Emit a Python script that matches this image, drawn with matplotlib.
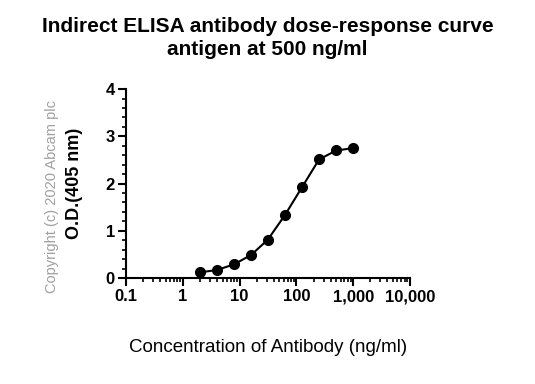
import matplotlib
matplotlib.use('Agg')
import matplotlib.pyplot as plt
from matplotlib.ticker import FixedLocator, MultipleLocator, LogLocator, NullFormatter

plt.rcParams['font.family'] = ['Liberation Sans', 'DejaVu Sans']

# antibody dilution series (ng/ml) and O.D. at 405 nm
conc = [2, 4, 8, 16, 31.25, 62.5, 125, 250, 500, 1000]
od = [0.12, 0.17, 0.29, 0.49, 0.81, 1.33, 1.92, 2.51, 2.70, 2.75]
x_ticks = [0.1, 1, 10, 100, 1000, 10000]
x_labels = ['0.1', '1', '10', '100', '1,000', '10,000']
y_ticks = [0, 1, 2, 3, 4]

fig = plt.figure(figsize=(5.35, 3.84), dpi=100)
ax = fig.add_axes([0.2355, 0.276, 0.531, 0.492])

ax.plot(conc, od, color='black', lw=1.5, marker='o', ms=7, clip_on=False)

ax.set_xscale('log')
ax.set_xlim(0.1, 10000)
ax.set_ylim(0, 4)
ax.xaxis.set_major_locator(FixedLocator(x_ticks))
ax.set_xticklabels(x_labels)
ax.xaxis.set_minor_locator(LogLocator(base=10, subs=range(2, 10)))
ax.xaxis.set_minor_formatter(NullFormatter())
ax.set_yticks(y_ticks)
ax.yaxis.set_minor_locator(MultipleLocator(0.2))

for s in ['top', 'right']:
    ax.spines[s].set_visible(False)
for s in ['left', 'bottom']:
    ax.spines[s].set_linewidth(1.5)

ax.tick_params(which='major', length=6, width=1.5, labelsize=12, pad=2)
ax.tick_params(which='minor', length=3, width=1.2)
for lbl in ax.get_xticklabels() + ax.get_yticklabels():
    lbl.set_fontweight('bold')

ax.set_ylabel('O.D.(405 nm)', fontsize=13, fontweight='bold', labelpad=16)
ax.set_xlabel('Concentration of Antibody (ng/ml)', fontsize=13.5, labelpad=25)

# title, two lines
fig.text(0.5, 0.917, 'Indirect ELISA antibody dose-response curve',
         ha='center', va='baseline', fontsize=15, fontweight='bold')
fig.text(0.5, 0.857, 'antigen at 500 ng/ml',
         ha='center', va='baseline', fontsize=15, fontweight='bold')
fig.text(0.097, 0.487, 'Copyright (c) 2020 Abcam plc', rotation=90, ha='center', va='center',
         fontsize=10.5, color='#a0a0a0')

fig.savefig('out.png', dpi=100)
